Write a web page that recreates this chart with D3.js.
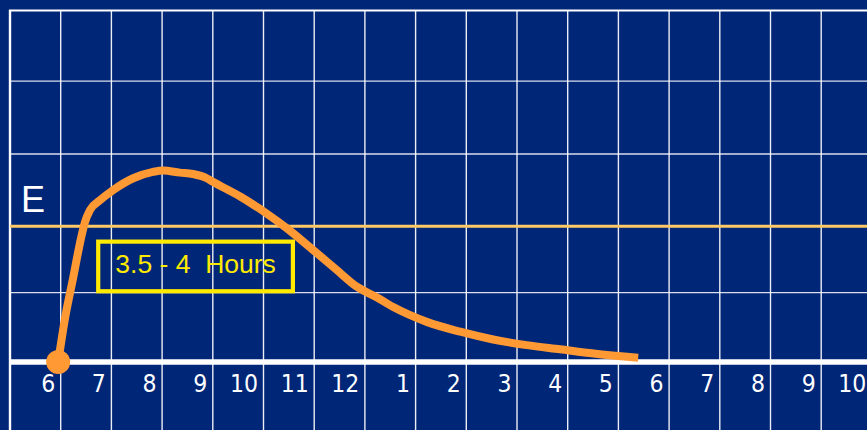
<!DOCTYPE html>
<html>
<head>
<meta charset="utf-8">
<script src="https://cdn.jsdelivr.net/npm/d3@7"></script>
<style>
  html, body { margin: 0; padding: 0; background: #002678; }
  svg { display: block; }
</style>
</head>
<body>
<svg id="chart" width="867" height="430"></svg>
<script>
// Hours of the day (continuous, 24h clock) for the hour ticks along the base
const hourTicks = [6, 7, 8, 9, 10, 11, 12, 13, 14, 15, 16, 17, 18, 19, 20, 21, 22];
const hourLabels = ["6", "7", "8", "9", "10", "11", "12", "1", "2", "3", "4", "5", "6", "7", "8", "9", "10"];

// Level grid lines and the reference level "E"
const gridLevels = [0.985, 2.955, 3.99];
const referenceLevel = 1.93;
const referenceLabel = "E";

// Effect curve: time (hours) and level
const curveHours  = [5.95, 6.09, 6.25, 6.38, 6.48, 6.58, 6.78, 7.03, 7.43, 7.82, 8.02, 8.35, 8.61, 8.88, 9.00,
                     9.54, 10.06, 10.46, 10.98, 11.44, 11.84, 12.23, 12.56, 13.22, 13.88, 14.53, 15.19, 15.85, 16.51, 17.39];
const curveLevels = [0.00, 0.64, 1.21, 1.69, 1.99, 2.16, 2.30, 2.44, 2.61, 2.70, 2.72, 2.69, 2.67, 2.61, 2.56,
                     2.35, 2.11, 1.90, 1.59, 1.31, 1.07, 0.92, 0.78, 0.57, 0.43, 0.32, 0.24, 0.18, 0.12, 0.06];

// Duration callout
const calloutText = "3.5 - 4  Hours";
const calloutHours = [6.74, 10.58];
const calloutLevels = [1.71, 1.005];

const W = 867, H = 430;
const svg = d3.select("#chart");

const x = d3.scaleLinear().domain([5, 22]).range([10, 871.9]);
const y = d3.scaleLinear().domain([0, 5]).range([362, 10]);

const navy = "#002678";
const orange = "#FF9933";
const lightOrange = "#FFC966";
const yellow = "#FFEA00";

svg.append("rect").attr("width", W).attr("height", H).attr("fill", navy);

// vertical hour lines (from the top border down past the base)
const vLines = [5].concat(hourTicks);
svg.append("g").selectAll("line").data(vLines).join("line")
  .attr("x1", d => x(d)).attr("x2", d => x(d))
  .attr("y1", y(5)).attr("y2", H)
  .attr("stroke", "#ffffff")
  .attr("stroke-width", d => d === 5 ? 2.4 : 1.4)
  .attr("opacity", d => d === 5 ? 1 : 0.92);

// horizontal level lines
svg.append("g").selectAll("line").data(gridLevels).join("line")
  .attr("x1", x(5)).attr("x2", W)
  .attr("y1", d => y(d)).attr("y2", d => y(d))
  .attr("stroke", "#ffffff").attr("stroke-width", 1.4).attr("opacity", 0.85);

// top border
svg.append("line")
  .attr("x1", x(5) - 1).attr("x2", W)
  .attr("y1", y(5) + 0.5).attr("y2", y(5) + 0.5)
  .attr("stroke", "#ffffff").attr("stroke-width", 2.2);

// reference level
svg.append("line")
  .attr("x1", x(5)).attr("x2", W)
  .attr("y1", y(referenceLevel)).attr("y2", y(referenceLevel))
  .attr("stroke", lightOrange).attr("stroke-width", 3);

svg.append("text")
  .attr("x", 21).attr("y", y(referenceLevel) - 14.5)
  .attr("fill", "#ffffff")
  .attr("font-family", "'Liberation Sans', Arial, sans-serif")
  .attr("font-size", 36)
  .text(referenceLabel);

// base line
svg.append("line")
  .attr("x1", x(5)).attr("x2", W)
  .attr("y1", y(0)).attr("y2", y(0))
  .attr("stroke", "#ffffff").attr("stroke-width", 5.5);

// hour labels, right-aligned just left of each hour line
svg.append("g").selectAll("text").data(hourTicks).join("text")
  .attr("x", d => x(d) - 5.5)
  .attr("y", 392)
  .attr("text-anchor", "end")
  .attr("fill", "#ffffff")
  .attr("font-family", "'Liberation Sans Narrow', 'Arial Narrow', 'DejaVu Sans Condensed', sans-serif")
  .attr("font-size", 24.5)
  .text((d, i) => hourLabels[i]);

// duration callout
const bx0 = x(calloutHours[0]), bx1 = x(calloutHours[1]);
const by0 = y(calloutLevels[0]), by1 = y(calloutLevels[1]);
svg.append("rect")
  .attr("x", bx0).attr("y", by0)
  .attr("width", bx1 - bx0).attr("height", by1 - by0)
  .attr("fill", "none").attr("stroke", yellow).attr("stroke-width", 4.2);
svg.append("text")
  .attr("x", (bx0 + bx1) / 2).attr("y", by0 + 31)
  .attr("text-anchor", "middle")
  .attr("fill", yellow)
  .attr("font-family", "'Liberation Sans', Arial, sans-serif")
  .attr("font-size", 26.5)
  .style("white-space", "pre")
  .text(calloutText);

// effect curve
const pts = curveHours.map((h, i) => [h, curveLevels[i]]);
const line = d3.line()
  .x(d => x(d[0])).y(d => y(d[1]))
  .curve(d3.curveMonotoneX);
svg.append("path")
  .attr("d", line(pts))
  .attr("fill", "none")
  .attr("stroke", orange)
  .attr("stroke-width", 8)
  .attr("stroke-linejoin", "round");

// start marker
svg.append("circle")
  .attr("cx", x(curveHours[0])).attr("cy", y(curveLevels[0]))
  .attr("r", 12)
  .attr("fill", orange);
</script>
</body>
</html>
